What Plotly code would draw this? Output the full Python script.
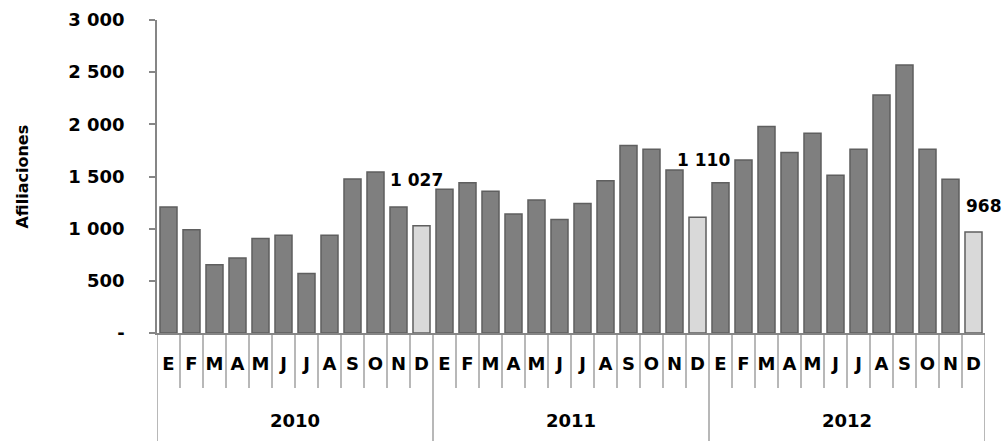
import plotly.graph_objects as go

years = ["2010", "2011", "2012"]
months = ["E", "F", "M", "A", "M", "J", "J", "A", "S", "O", "N", "D"]
values_2010 = [1207, 989, 653, 720, 906, 938, 570, 938, 1476, 1543, 1207, 1027]
values_2011 = [1377, 1441, 1358, 1140, 1274, 1089, 1242, 1460, 1796, 1761, 1562, 1110]
values_2012 = [1441, 1658, 1979, 1729, 1915, 1511, 1761, 2280, 2568, 1761, 1473, 968]
y_tickvals = [0, 500, 1000, 1500, 2000, 2500, 3000]
y_ticktext = ["-", "500", "1 000", "1 500", "2 000", "2 500", "3 000"]
label_texts = ["1 027", "1 110", "968"]
y_title = "Afiliaciones"

all_values = values_2010 + values_2011 + values_2012
x_keys = [f"{y}-{i + 1:02d}" for y in years for i in range(len(months))]
x_text = months * len(years)
n = len(x_keys)
nm = len(months)

dark = "#7f7f7f"
light = "#d9d9d9"
colors = [light if (i % nm) == nm - 1 else dark for i in range(n)]

font_family = "DejaVu Sans, Liberation Sans, Arial, sans-serif"
bold = dict(family=font_family, color="black", weight="bold")

fig = go.Figure()
fig.add_trace(go.Bar(
    x=x_keys,
    y=all_values,
    marker=dict(color=colors, line=dict(color="#5f5f5f", width=1.5)),
    hoverinfo="y",
))

# labels on December bars
dec_idx = [nm - 1 + k * nm for k in range(len(years))]
label_shift = [(-5, 34), (6, 45), (10, 14)]
for idx, txt, (dx, dy) in zip(dec_idx, label_texts, label_shift):
    fig.add_annotation(
        x=idx, y=all_values[idx], xref="x", yref="y", text=txt, showarrow=False,
        xshift=dx, yshift=dy, yanchor="bottom",
        font=dict(bold, size=17),
    )

# month separator ticks and year dividers
line_col = "#a0a0a0"
for b in range(n + 1):
    is_year = (b % nm) == 0
    fig.add_shape(
        type="line", xref="x", yref="paper",
        x0=b - 0.5, x1=b - 0.5, y0=0, y1=-0.345 if is_year else -0.176,
        line=dict(color=line_col, width=1.5), layer="below",
    )

# year labels
for k, yr in enumerate(years):
    fig.add_annotation(
        x=k * nm + (nm - 1) / 2, y=-0.281, xref="x", yref="paper",
        text=yr, showarrow=False, yanchor="middle",
        font=dict(bold, size=18),
    )

# y title
fig.add_annotation(
    x=-0.163, y=0.5, xref="paper", yref="paper", text=y_title,
    textangle=-90, showarrow=False, xanchor="center", yanchor="middle",
    font=dict(bold, size=16),
)

fig.update_layout(
    width=1007, height=441,
    margin=dict(l=157, r=22, t=20, b=108, autoexpand=False),
    plot_bgcolor="white", paper_bgcolor="white",
    bargap=0.26,
    showlegend=False,
    font=dict(family=font_family, color="black"),
)
fig.update_xaxes(
    type="category",
    range=[-0.5, n - 0.5],
    tickvals=x_keys, ticktext=x_text,
    showline=True, linecolor="#868686", linewidth=1.5,
    ticks="", ticklabelstandoff=14,
    tickfont=dict(bold, size=18),
    showgrid=False, automargin=False,
)
fig.update_yaxes(
    range=[0, 3000],
    tickvals=y_tickvals, ticktext=y_ticktext,
    showline=True, linecolor="#868686", linewidth=1.5,
    ticks="outside", ticklen=6, tickcolor="#868686", tickwidth=1.5,
    tickfont=dict(bold, size=18),
    ticklabelstandoff=21,
    showgrid=False, zeroline=False, automargin=False,
)

fig.write_html(
    "out.html",
    config={"displayModeBar": False},
    post_script="document.body.style.margin='0px';document.body.style.overflow='hidden';",
)
